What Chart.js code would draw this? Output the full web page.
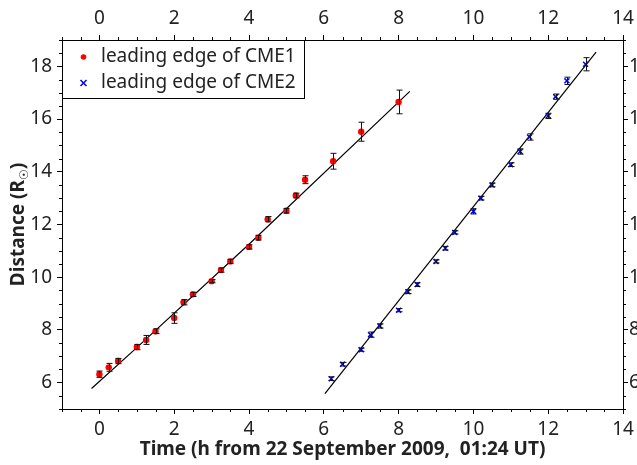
<!DOCTYPE html>
<html>
<head>
<meta charset="utf-8">
<script src="https://cdn.jsdelivr.net/npm/chart.js@4"></script>
<style>
html, body { margin: 0; padding: 0; background: #fff; overflow: hidden; }
#wrap { width: 637px; height: 465px; overflow: hidden; }
canvas { display: block; }
</style>
</head>
<body>
<div id="wrap"><canvas id="chart" width="660" height="465"></canvas></div>
<script>
// CME1 leading edge (hours, solar radii, error)
const cme1Time = [0, 0.25, 0.5, 1, 1.25, 1.5, 2, 2.25, 2.5, 3, 3.25, 3.5, 4, 4.25, 4.5, 5, 5.25, 5.5, 6.25, 7, 8];
const cme1Dist = [6.32, 6.58, 6.82, 7.35, 7.62, 7.95, 8.45, 9.05, 9.35, 9.85, 10.27, 10.6, 11.15, 11.5, 12.2, 12.52, 13.1, 13.7, 14.4, 15.52, 16.65];
const cme1Err  = [0.12, 0.15, 0.1, 0.1, 0.17, 0.09, 0.2, 0.1, 0.08, 0.06, 0.08, 0.08, 0.08, 0.09, 0.1, 0.09, 0.09, 0.15, 0.3, 0.36, 0.45];

// CME2 leading edge
const cme2Time = [6.2, 6.5, 7, 7.25, 7.5, 8, 8.25, 8.5, 9, 9.25, 9.5, 10, 10.2, 10.5, 11, 11.25, 11.5, 12, 12.2, 12.5, 13];
const cme2Dist = [6.15, 6.7, 7.25, 7.82, 8.15, 8.75, 9.45, 9.72, 10.6, 11.1, 11.7, 12.5, 13.0, 13.5, 14.27, 14.77, 15.32, 16.12, 16.85, 17.45, 18.08];
const cme2Err  = [0.07, 0.07, 0.06, 0.1, 0.08, 0.06, 0.07, 0.07, 0.06, 0.07, 0.06, 0.1, 0.07, 0.07, 0.07, 0.1, 0.12, 0.1, 0.1, 0.14, 0.25];

// fitted lines
const fit1Time = [-0.21, 1, 4, 8.3];
const fit1Dist = [5.78, 7.33, 11.25, 17.05];
const fit2Time = [6.03, 13.28];
const fit2Dist = [5.58, 18.54];

const xTicks = [0, 2, 4, 6, 8, 10, 12, 14];
const yTicks = [6, 8, 10, 12, 14, 16, 18];
const legendLabels = ['leading edge of CME1', 'leading edge of CME2'];

const FONT = 'Noto Sans';
const FSIZE = 19;
const textColor = '#222';

const toXY = (xs, ys) => xs.map((x, i) => ({ x: x, y: ys[i] }));

// error bars, minor ticks, legend box and y title
const extrasPlugin = {
    id: 'extras',
    afterDatasetsDraw(chart) {
        const ctx = chart.ctx;
        const xs = chart.scales.x, ys = chart.scales.y;
        ctx.save();
        ctx.strokeStyle = '#111';
        ctx.lineWidth = 1;
        const bars = (times, dists, errs) => {
            times.forEach((t, i) => {
                const px = Math.round(xs.getPixelForValue(t)) + 0.5;
                const y1 = ys.getPixelForValue(dists[i] - errs[i]);
                const y2 = ys.getPixelForValue(dists[i] + errs[i]);
                ctx.beginPath();
                ctx.moveTo(px, y1); ctx.lineTo(px, y2);
                ctx.moveTo(px - 3, y1); ctx.lineTo(px + 3, y1);
                ctx.moveTo(px - 3, y2); ctx.lineTo(px + 3, y2);
                ctx.stroke();
            });
        };
        bars(cme1Time, cme1Dist, cme1Err);
        bars(cme2Time, cme2Dist, cme2Err);
        ctx.restore();
    },
    afterDraw(chart) {
        const ctx = chart.ctx;
        const area = chart.chartArea;
        const xs = chart.scales.x, ys = chart.scales.y;
        ctx.save();
        ctx.strokeStyle = '#000';
        ctx.lineWidth = 1;

        // minor ticks every 0.5, outward
        ctx.beginPath();
        for (let i = -2; i <= 28; i++) {
            if (i % 4 === 0) continue;
            const px = Math.round(xs.getPixelForValue(i / 2)) + 0.5;
            ctx.moveTo(px, area.bottom); ctx.lineTo(px, area.bottom + 3);
            ctx.moveTo(px, area.top); ctx.lineTo(px, area.top - 3);
        }
        for (let i = 10; i <= 38; i++) {
            if (i % 4 === 0) continue;
            const py = Math.round(ys.getPixelForValue(i / 2)) + 0.5;
            ctx.moveTo(area.left, py); ctx.lineTo(area.left - 3, py);
            ctx.moveTo(area.right, py); ctx.lineTo(area.right + 3, py);
        }
        ctx.stroke();

        // legend box
        const bx = Math.round(area.left) + 0.5, by = Math.round(area.top) + 0.5;
        ctx.fillStyle = '#fff';
        ctx.fillRect(bx, by, 242, 58);
        ctx.strokeRect(bx, by, 242, 58);
        ctx.fillStyle = '#f00';
        ctx.beginPath();
        ctx.arc(83.5, 57, 2.8, 0, Math.PI * 2);
        ctx.fill();
        ctx.strokeStyle = '#00f';
        ctx.lineWidth = 1.5;
        ctx.beginPath();
        ctx.moveTo(80.5, 80); ctx.lineTo(86.5, 86);
        ctx.moveTo(86.5, 80); ctx.lineTo(80.5, 86);
        ctx.stroke();
        ctx.fillStyle = textColor;
        ctx.font = FSIZE + 'px "' + FONT + '"';
        ctx.textBaseline = 'middle';
        ctx.textAlign = 'left';
        ctx.fillText(legendLabels[0], 101, 57);
        ctx.fillText(legendLabels[1], 101, 83);

        // y title with subscript sun symbol
        ctx.translate(18, (area.top + area.bottom) / 2);
        ctx.rotate(-Math.PI / 2);
        const main = 'Distance (R';
        const sub = '\u2609';
        const bold = 'bold ' + FSIZE + 'px "' + FONT + '"';
        const small = 'bold 12px "DejaVu Sans"';
        ctx.font = bold;
        const w1 = ctx.measureText(main).width;
        const w3 = ctx.measureText(')').width;
        ctx.font = small;
        const w2 = ctx.measureText(sub).width;
        const x0 = -(w1 + w2 + w3) / 2;
        ctx.textBaseline = 'alphabetic';
        ctx.font = bold;
        ctx.fillText(main, x0, 6);
        ctx.font = small;
        ctx.fillText(sub, x0 + w1, 10);
        ctx.font = bold;
        ctx.fillText(')', x0 + w1 + w2, 6);
        ctx.restore();
    }
};

const tickFont = { family: FONT, size: FSIZE };
const axisGrid = { drawOnChartArea: false, drawTicks: true, tickLength: 5, color: '#000', lineWidth: 1 };
const axisBorder = { display: true, color: '#000', width: 1 };
const setTicks = (vals) => (scale) => { scale.ticks = vals.map(v => ({ value: v })); };

new Chart(document.getElementById('chart').getContext('2d'), {
    type: 'scatter',
    data: {
        datasets: [
            {
                label: legendLabels[0],
                data: toXY(cme1Time, cme1Dist),
                backgroundColor: '#f00',
                borderColor: '#f00',
                pointRadius: 3.2,
                pointBorderWidth: 0
            },
            {
                label: legendLabels[1],
                data: toXY(cme2Time, cme2Dist),
                pointStyle: 'crossRot',
                borderColor: '#00f',
                backgroundColor: '#00f',
                pointRadius: 3.5,
                pointBorderWidth: 1.5
            },
            {
                label: 'fit1',
                data: toXY(fit1Time, fit1Dist),
                showLine: true,
                borderColor: '#000',
                borderWidth: 1.2,
                pointRadius: 0
            },
            {
                label: 'fit2',
                data: toXY(fit2Time, fit2Dist),
                showLine: true,
                borderColor: '#000',
                borderWidth: 1.2,
                pointRadius: 0
            }
        ]
    },
    options: {
        responsive: false,
        animation: false,
        devicePixelRatio: 1,
        layout: { padding: 0 },
        plugins: {
            legend: { display: false },
            tooltip: { enabled: false }
        },
        scales: {
            x: {
                type: 'linear', position: 'bottom', min: -1, max: 14,
                afterBuildTicks: setTicks(xTicks),
                afterFit: (s) => { s.height = 56; },
                grid: axisGrid, border: axisBorder,
                ticks: { font: tickFont, color: textColor, padding: 4, maxRotation: 0 },
                title: {
                    display: true,
                    text: 'Time (h from 22 September 2009,  01:24 UT)',
                    font: { family: FONT, size: FSIZE, weight: 'bold' },
                    color: textColor,
                    padding: { top: 0, bottom: 4 }
                }
            },
            x2: {
                type: 'linear', axis: 'x', position: 'top', min: -1, max: 14,
                afterBuildTicks: setTicks(xTicks),
                afterFit: (s) => { s.height = 40; },
                grid: axisGrid, border: axisBorder,
                ticks: { font: tickFont, color: textColor, padding: 5, maxRotation: 0 }
            },
            y: {
                type: 'linear', position: 'left', min: 5, max: 19,
                afterBuildTicks: setTicks(yTicks),
                afterFit: (s) => { s.width = 62; },
                grid: axisGrid, border: axisBorder,
                ticks: { font: tickFont, color: textColor, padding: 5 }
            },
            y2: {
                type: 'linear', axis: 'y', position: 'right', min: 5, max: 19,
                afterBuildTicks: setTicks(yTicks),
                afterFit: (s) => { s.width = 37; },
                grid: axisGrid, border: axisBorder,
                ticks: { font: tickFont, color: textColor, padding: 1 }
            }
        }
    },
    plugins: [extrasPlugin]
});
</script>
</body>
</html>
